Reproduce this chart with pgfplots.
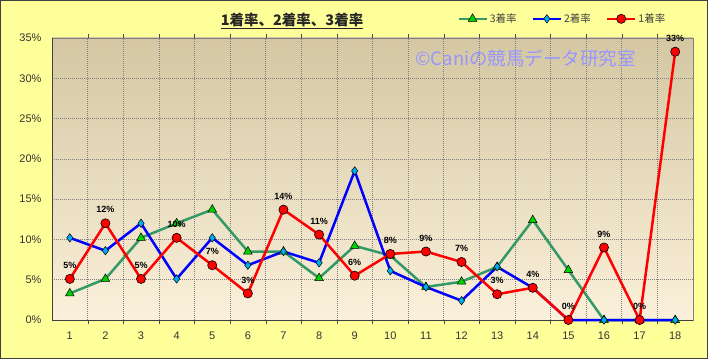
\documentclass[border=0pt]{standalone}
\usepackage{pgfplots}
\pgfplotsset{compat=1.18}
\usepackage{fontspec}
\setmainfont{Liberation Sans}
\newfontfamily\jp{Noto Sans CJK JP}
\definecolor{bgyellow}{RGB}{255,255,153}
\definecolor{plottop}{RGB}{212,199,162}
\definecolor{plotbot}{RGB}{251,240,218}
\definecolor{sgreen}{RGB}{51,153,102}
\definecolor{mgreen}{RGB}{0,210,0}
\definecolor{wm}{RGB}{150,150,255}
\pgfplotstableread{
x y
1 3.3
2 5.1
3 10.2
4 12.0
5 13.7
6 8.5
7 8.5
8 5.2
9 9.2
10 8.0
11 4.1
12 4.75
13 6.6
14 12.4
15 6.2
16 0
17 0
18 0
}\third
\pgfplotstableread{
x y
1 10.2
2 8.6
3 12.0
4 5.1
5 10.2
6 6.8
7 8.5
8 7.1
9 18.5
10 6.1
11 4.1
12 2.4
13 6.6
14 4.0
15 0
16 0
17 0
18 0
}\second
\pgfplotstableread{
x y lab
1 5.1 5
2 12.0 12
3 5.1 5
4 10.2 10
5 6.8 7
6 3.3 3
7 13.7 14
8 10.6 11
9 5.5 6
10 8.2 8
11 8.5 9
12 7.2 7
13 3.2 3
14 4.0 4
15 0 0
16 9.0 9
17 0 0
18 33.3 33
}\first
\begin{document}
\begin{tikzpicture}[x=1pt,y=1pt]
\useasboundingbox (0,0) rectangle (708,359);
\fill[bgyellow] (0,0) rectangle (708,359);
\draw[black!75, line width=1.2pt] (0.6,0.6) rectangle (707.4,358.4);
\node[font=\jp\bfseries\fontsize{14.5}{16}\selectfont, text=black!85] at (292,338) {\underline{1着率、2着率、3着率}};
\begin{axis}[
  at={(52pt,39pt)}, anchor=south west,
  scale only axis, width=641pt, height=282pt,
  xmin=0.5, xmax=18.5, ymin=0, ymax=35,
  xtick={1,...,18}, minor xtick={1.5,2.5,...,17.5},
  ytick={0,5,...,35},
  yticklabel={\pgfmathprintnumber{\tick}\%},
  /pgf/number format/assume math mode=true,
  tick label style={font=\fontsize{11}{13}\selectfont, text=black!80},
  major tick length=0pt, minor tick length=4pt, tick align=outside,
  minor tick style={black!70},
  xticklabel style={yshift=-8pt},
  yticklabel style={xshift=-7pt},
  ymajorgrids=true, xminorgrids=true,
  grid style={black!50, dash pattern=on 1pt off 1pt, line width=0.6pt},
  minor grid style={black!50, dash pattern=on 1pt off 1pt, line width=0.6pt},
  axis line style={black!50, line width=0.8pt},
  axis background/.style={top color=plottop, bottom color=plotbot},
  clip=false,
  legend style={at={(0.632,1.068)}, anchor=west, draw=none, fill=none,
    font=\jp\fontsize{10.5}{12}\selectfont, text=black!75, legend columns=3,
    inner xsep=0pt, inner ysep=0pt,
    /tikz/every even column/.append style={column sep=13pt}},
  legend image code/.code={\draw[mark repeat=2,mark phase=2,#1] plot coordinates {(0pt,0pt) (14pt,0pt) (28pt,0pt)};},
]
\draw[black!75, line width=1pt] (rel axis cs:0,1) -- (rel axis cs:0,0) -- (rel axis cs:1,0);
\addplot[sgreen, line width=2.5pt, mark=triangle*, mark size=5pt,
  mark options={fill=mgreen, draw=black, line width=0.5pt}] table {\third};
\addlegendentry{3着率}
\addplot[blue, line width=2.5pt, mark=diamond*, mark size=4.2pt,
  mark options={fill=cyan, draw=black, line width=0.5pt}] table {\second};
\addlegendentry{2着率}
\addplot[red, line width=2.5pt, mark=*, mark size=4.6pt,
  mark options={fill=red, draw=black, line width=0.6pt},
  nodes near coords={\pgfplotspointmeta\%}, point meta=explicit symbolic,
  nodes near coords style={font=\bfseries\fontsize{9}{10}\selectfont, text=black, anchor=south, inner sep=1pt, yshift=9pt}]
  table[meta=lab] {\first};
\addlegendentry{1着率}
\node[font=\jp\fontsize{18.5}{21}\selectfont, text=wm] at (axis cs:13.8,32.5) {©Caniの競馬データ研究室};
\end{axis}
\end{tikzpicture}
\end{document}
